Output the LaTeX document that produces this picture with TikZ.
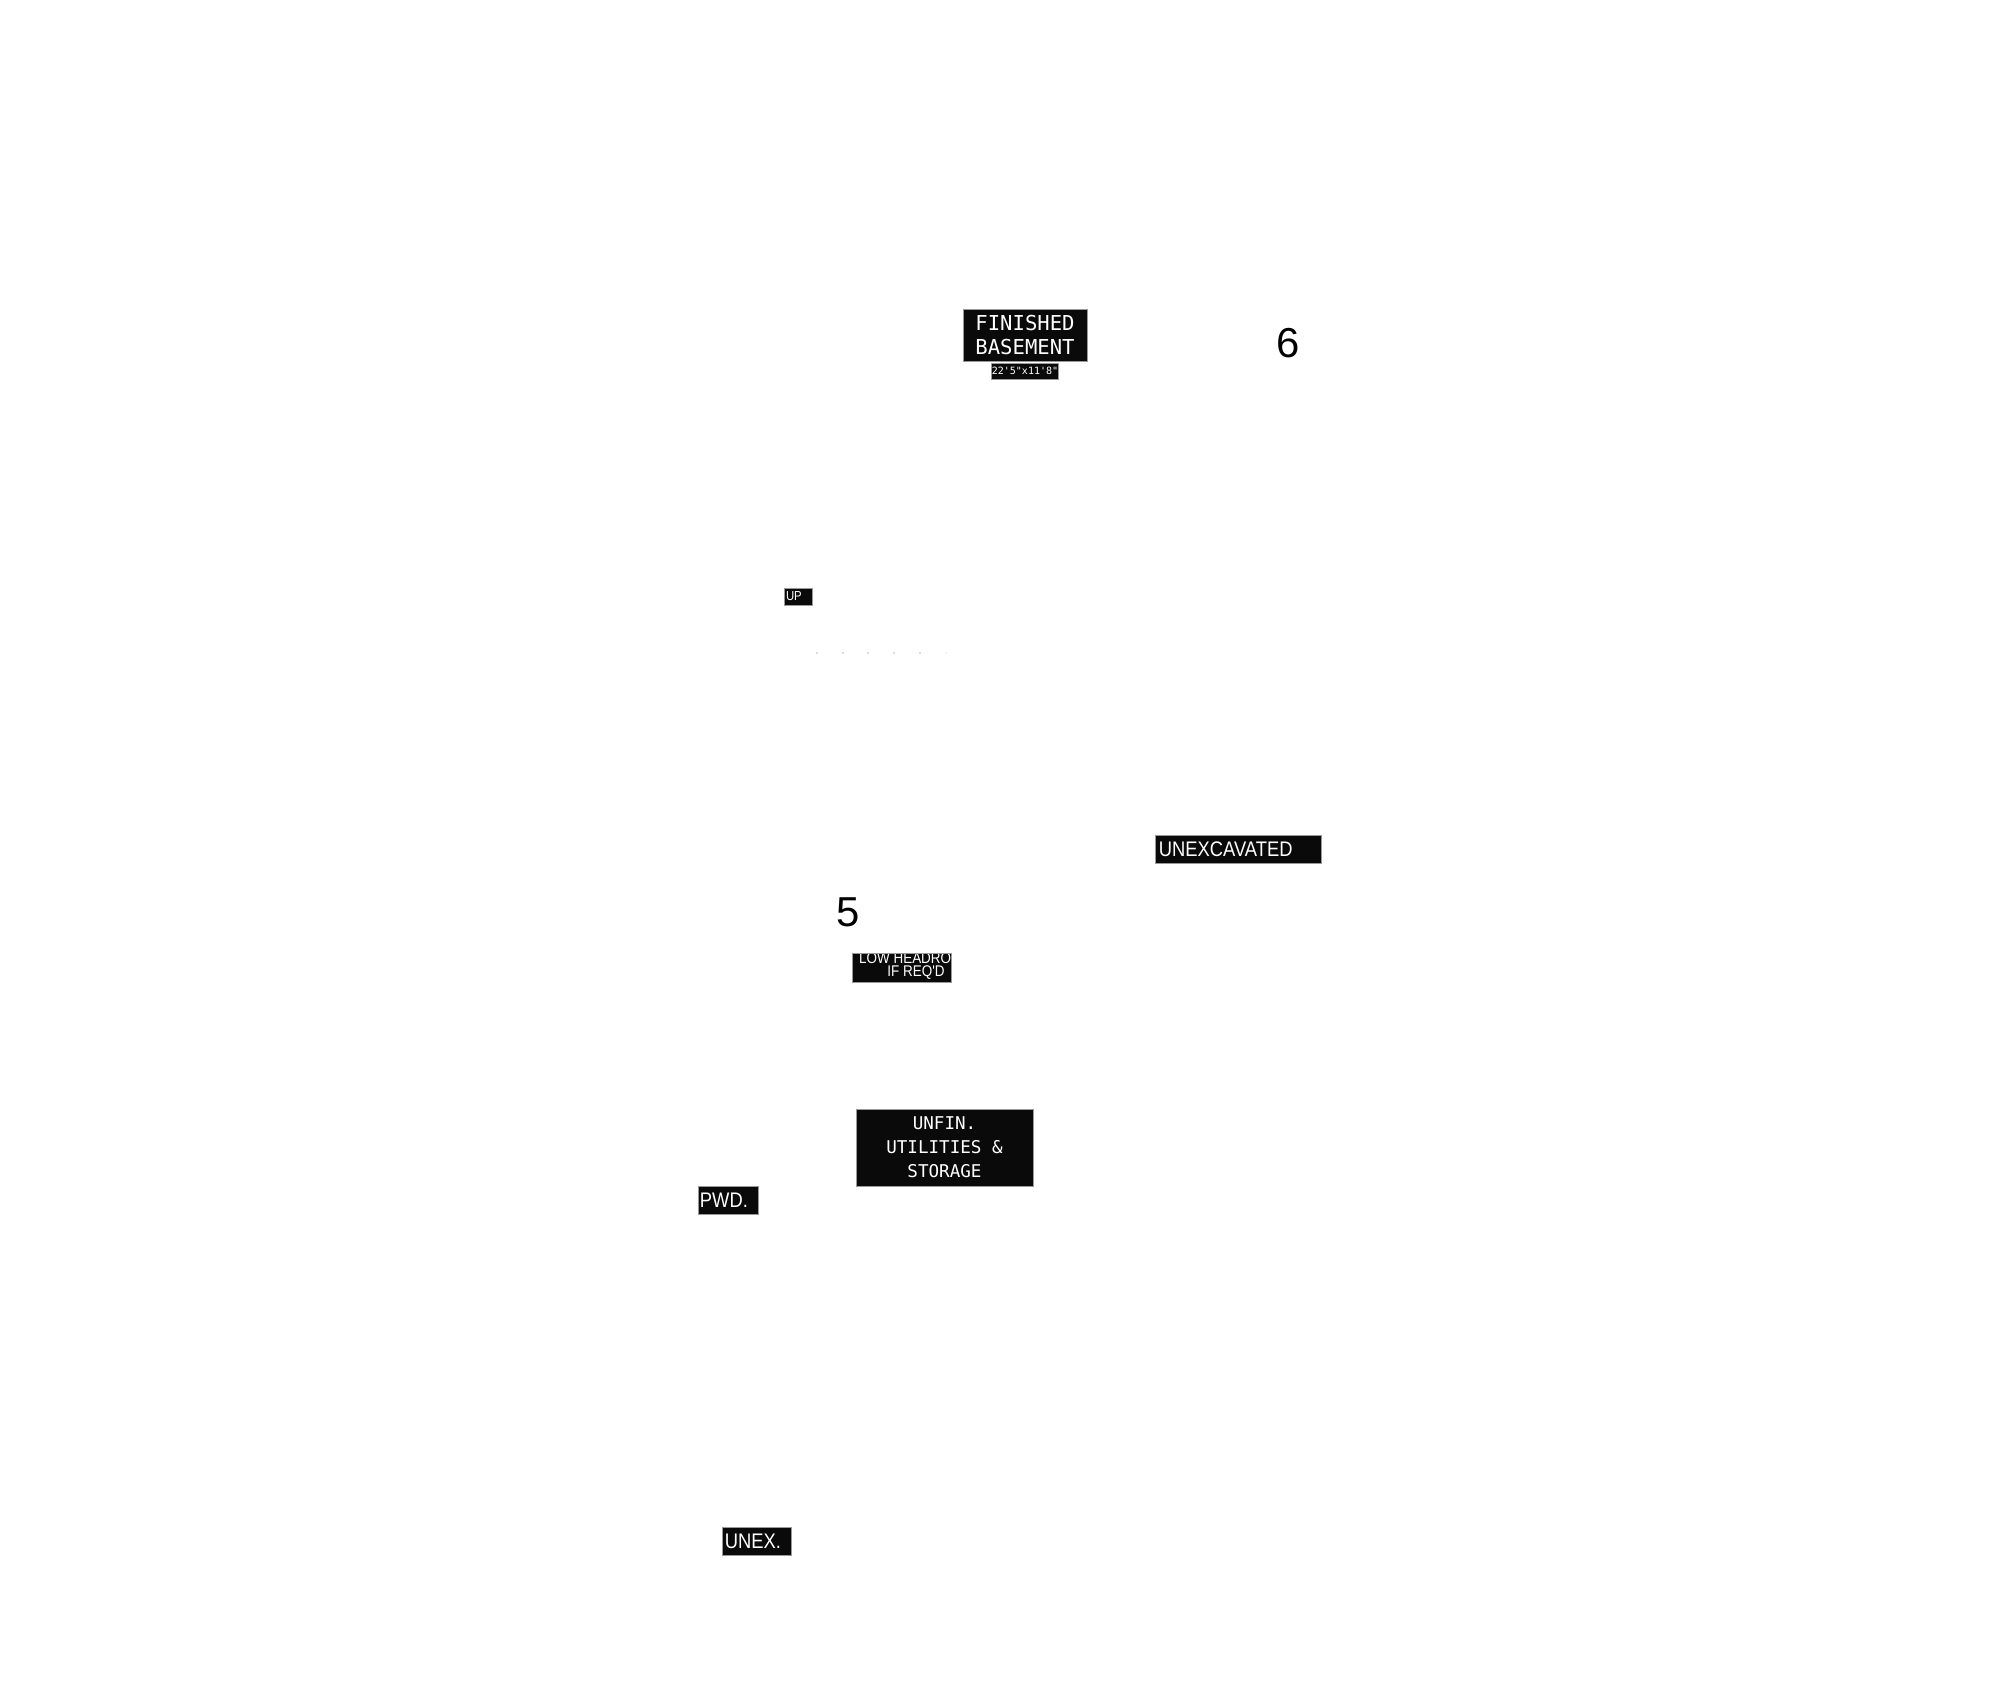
\documentclass[tikz,border=0pt]{standalone}
\usepackage{fontspec}
\usepackage{tikz}
\usetikzlibrary{shapes,positioning}

\newfontfamily\platefont{DejaVu Sans Mono}
\newfontfamily\tagfont[FakeStretch=0.87]{Liberation Sans}
\newfontfamily\digitfont{Liberation Sans}

\begin{document}
\begin{tikzpicture}[x=0.01cm, y=-0.01cm]
    % Define styles
    \tikzstyle{tag} = [rectangle, draw=black!40, line width=0.2pt, fill=black!96, text=white, inner sep=0pt]
    \tikzstyle{roomtag} = [tag, align=center, font=\platefont\fontsize{5.85pt}{6.8pt}\selectfont]
    \tikzstyle{flag} = [tag, align=left, font=\tagfont\fontsize{6pt}{6.8pt}\selectfont]
    \tikzstyle{digit} = [inner sep=0pt, font=\digitfont\fontsize{11.9pt}{13pt}\selectfont]
    \tikzstyle{dot} = [fill=black!28]

    \useasboundingbox (0,0) rectangle (2000,1706);

    % Nodes
    \node [roomtag, minimum width=1.24cm, minimum height=0.52cm] (finished) at (1025,335) {FINISHED\\BASEMENT};
    \node [roomtag, minimum width=0.66cm, minimum height=0.16cm, font=\platefont\fontsize{2.85pt}{3.2pt}\selectfont] (finishedsize) at (1025,371) {22\char"27 5\char"22 x11\char"27 8\char"22};
    \node [digit] (six) at (1288,343) {6};
    \node [flag, text width=0.24cm, inner xsep=0.02cm, minimum height=0.17cm, font=\tagfont\fontsize{3.7pt}{4pt}\selectfont] (up) at (798,596.5) {UP};
    \node [flag, text width=1.58cm, inner xsep=0.04cm, minimum height=0.28cm] (unexcavated) at (1238,849) {UNEXCAVATED};
    \node [digit] (five) at (848,912) {5};
    \node [roomtag, minimum width=1.77cm, minimum height=0.77cm, font=\platefont\fontsize{5.0pt}{6.8pt}\selectfont] (utilities) at (944.5,1147.5) {UNFIN.\\UTILITIES \&\\STORAGE};
    \node [flag, text width=0.56cm, inner xsep=0.02cm, minimum height=0.28cm] (pwd) at (728,1200) {PWD.};
    \node [flag, text width=0.63cm, inner xsep=0.03cm, minimum height=0.28cm] (unex) at (756.5,1541) {UNEX.};

    % Low headroom tag, text cut by its box
    \begin{scope}
        \clip (852,953) rectangle (951,982);
        \fill [black!96] (852,953) rectangle (951,982);
        \node [text=white, inner sep=0pt, align=center, font=\tagfont\fontsize{4.4pt}{3.7pt}\selectfont] (headroom) at (916,966) {LOW HEADROOM\\IF REQ\char"27 D};
    \end{scope}
    \draw [black!40, line width=0.2pt] (852,953) rectangle (951,982);

    % Stair dots
    \fill [dot] (817,653) circle (0.9) (843,653) circle (0.9) (868,653) circle (0.9)
        (894,653) circle (0.9) (920,653) circle (0.9);
    \fill [black!10] (946,653) circle (0.9);
\end{tikzpicture}
\end{document}
